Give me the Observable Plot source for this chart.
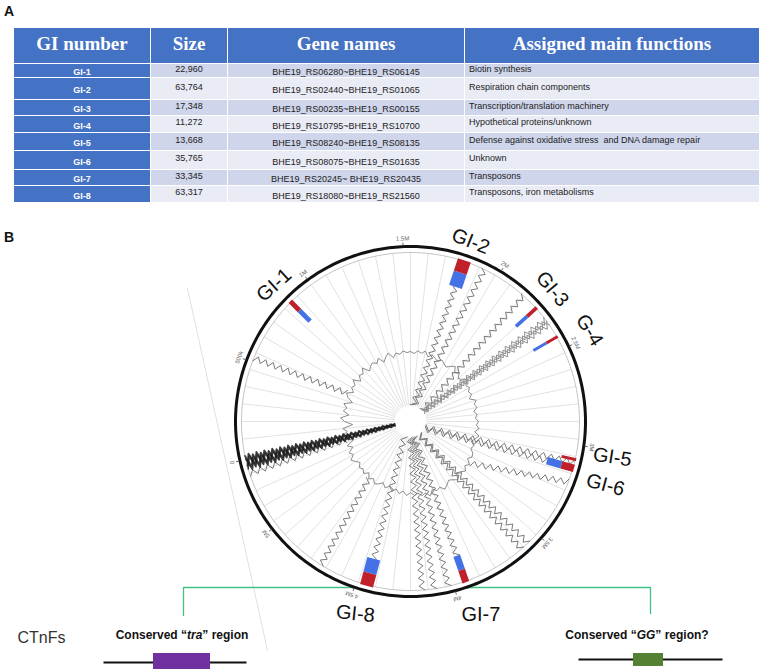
<!DOCTYPE html>
<html><head><meta charset="utf-8">
<script src="https://cdn.jsdelivr.net/npm/d3@7"></script>
<script src="https://cdn.jsdelivr.net/npm/@observablehq/plot@0.6"></script>
<style>
body{margin:0;background:#fff;width:763px;height:671px;position:relative;overflow:hidden;font-family:"Liberation Sans",Arial,sans-serif;}
.panel{position:absolute;left:4px;font-weight:bold;font-size:14px;color:#111;}
#tbl{position:absolute;left:14px;top:28px;display:grid;grid-template-columns:136px 76px 236px 294px;column-gap:1px;row-gap:1px;background:#fff;}
.h{background:#4472c4;color:#fff;font-family:"Liberation Serif","Times New Roman",serif;font-weight:bold;font-size:19px;display:flex;align-items:center;justify-content:center;padding-bottom:4px;box-sizing:border-box;}
.c{font-size:9px;color:#222;display:flex;align-items:center;box-sizing:border-box;white-space:pre;overflow:visible;}
.gi{background:#4472c4;color:#fff;font-weight:bold;justify-content:center;padding-top:3px;}
.sz{justify-content:center;padding-bottom:4px;}
.gn{justify-content:center;padding-top:3px;}
.fn{justify-content:flex-start;padding-left:4px;padding-bottom:4px;}
.cap{position:absolute;top:628px;font-weight:bold;font-size:12px;color:#111;white-space:nowrap;transform:translateX(-50%);line-height:14px;}
#plotB{position:absolute;left:0;top:205px;}
</style></head>
<body>
<div class="panel" style="top:3px">A</div>
<div id="tbl"></div>
<div class="panel" style="top:229px">B</div>
<div id="plotB"></div>
<div class="cap" style="left:182px">Conserved “<i>tra</i>” region</div>
<div class="cap" style="left:637px">Conserved “<i>GG</i>” region?</div>
<script>
// ---------- Panel A data ----------
const headers = ["GI number", "Size", "Gene names", "Assigned main functions"];
const giNames = ["GI-1","GI-2","GI-3","GI-4","GI-5","GI-6","GI-7","GI-8"];
const giSizes = ["22,960","63,764","17,348","11,272","13,668","35,765","33,345","63,317"];
const geneFrom = ["BHE19_RS06280","BHE19_RS02440","BHE19_RS00235","BHE19_RS10795","BHE19_RS08240","BHE19_RS08075","BHE19_RS20245","BHE19_RS18080"];
const geneTo = ["BHE19_RS06145","BHE19_RS01065","BHE19_RS00155","BHE19_RS10700","BHE19_RS08135","BHE19_RS01635","BHE19_RS20435","BHE19_RS21560"];
const geneSep = ["~","~","~","~","~","~","~ ","~"];
const giFunctions = ["Biotin synthesis","Respiration chain components","Transcription/translation machinery","Hypothetical proteins/unknown","Defense against oxidative stress  and DNA damage repair","Unknown","Transposons","Transposons, iron metabolisms"];

// ---------- Panel B data ----------
const genomeMb = 5.37;                 // genome length (Mb)
const giMapLabels = ["GI-1","GI-2","GI-3","G-4","GI-5","GI-6","GI-7","GI-8"];
const giPosMb = [0.865, 1.812, 2.252, 2.431, 3.073, 3.118, 3.938, 4.445];
const giSizeBp = [22960, 63764, 17348, 11272, 13668, 35765, 33345, 63317];
const giHasBlue = [1,1,1,1,0,1,1,1];
const tickMb = [0,0.5,1,1.5,2,2.5,3,3.5,4,4.5,5];
const tickText = ["0","500k","1M","1.5M","2M","2.5M","3M","3.5M","4M","4.5M","5M"];
// GC-skew-like inner ring (one value every 3 degrees, clockwise from top)
const ringR = [
 70,68,71,69,72,67,70,68,66,69,
 67,65,68,71,66,69,64,67,70,66,
 68,65,67,63,69,66,68,64,67,65,
 68,66,69,65,70,67,64,68,66,70,
 71,68,73,70,74,71,69,75,72,70,
 73,76,72,74,71,77,73,75,72,74,
 71,74,70,73,69,72,68,71,67,70,
 72,68,71,66,70,67,69,65,68,71,
 66,69,63,68,60,67,70,64,68,58,
 66,70,62,68,65,69,61,67,70,64,
 68,66,71,64,69,67,72,65,68,70,
 67,71,65,69,72,66,70,68,71,69];
// zig-zag links (genome position outer end -> inner end)
const linkFromMb = [0.522,5.355,5.296,1.812,1.924,2.163,2.342,3.088,3.118,3.192,3.565,3.610,3.938,4.028,4.102,4.162,4.445,4.699];
const linkToMb   = [0.552,0.015,5.325,1.656,1.745,2.238,2.312,3.207,3.297,3.401,3.699,3.744,4.013,4.072,4.162,4.266,4.550,4.759];
const linkAtGI   = [0,0,0,1,0,0,0,0,1,0,0,0,1,0,0,0,1,0];
const linkTarget = ["ring","core","ring","core","core","core","core","core","core","ring","core","core","core","core","core","core","core","ring"];
const linkKind   = ["thin","heavy","thin","thin","thin","thin","braid","thin","thin","thin","thin","thin","thin","thin","thin","thin","thin","thin"];

// ---------- Panel A table ----------
const rowH = [13,21,15,16,17,18,15,16];
const tbl = document.getElementById("tbl");
tbl.style.gridTemplateRows = [35, ...rowH].map(h => h + "px").join(" ");
headers.forEach(h => { const d = document.createElement("div"); d.className = "h"; d.textContent = h; tbl.appendChild(d); });
giNames.forEach((g, i) => {
  const bg = i % 2 === 0 ? "#cfd5ea" : "#e9ebf5";
  const cells = [["gi", g], ["sz", giSizes[i]], ["gn", geneFrom[i] + geneSep[i] + geneTo[i]], ["fn", giFunctions[i]]];
  cells.forEach(([cls, t]) => {
    const d = document.createElement("div");
    d.className = "c " + cls; d.textContent = t;
    if (cls !== "gi") d.style.background = bg;
    tbl.appendChild(d);
  });
});

// ---------- Panel B circle ----------
const zeroBearing = 257;
const bear = mb => zeroBearing + mb / genomeMb * 360;
const P = (r, b) => [r * Math.sin(b * Math.PI / 180), -r * Math.cos(b * Math.PI / 180)];
const R_OUT = 175, R_IN = 169, R_CORE = 16;
const ringStep = 360 / ringR.length;
const ringAt = b => ringR[Math.round((((b % 360) + 360) % 360) / ringStep) % ringR.length];

function zigzag(id, p0, p1, amp0, amp1, phase, offset) {
  const [x0, y0] = p0, [x1, y1] = p1;
  const len = Math.hypot(x1 - x0, y1 - y0);
  const n = Math.max(2, Math.round(len / 4));
  const ux = (x1 - x0) / len, uy = (y1 - y0) / len, nx = -uy, ny = ux;
  const pts = [];
  for (let i = 0; i <= n; i++) {
    const t = i / n, amp = amp0 + (amp1 - amp0) * t;
    const s = ((i + phase) % 2 === 0) ? 1 : -1;
    const off = s * amp + offset * (1 - 0.8 * t);
    pts.push({id, x: x0 + (x1 - x0) * t + nx * off, y: y0 + (y1 - y0) * t + ny * off});
  }
  return pts;
}
const thin = [], heavy = [], braid = [];
linkFromMb.forEach((m, i) => {
  const b0 = bear(m), b1 = bear(linkToMb[i]);
  const r0 = linkAtGI[i] ? 142 : R_IN;
  const r1 = linkTarget[i] === "core" ? R_CORE : ringAt(b1);
  const p0 = P(r0, b0), p1 = P(r1, b1);
  if (linkKind[i] === "heavy") {
    [-2.4, -0.8, 0.8, 2.4].forEach((o, k) => heavy.push(...zigzag(i + "h" + k, p0, p1, 6, 1, k % 2, o)));
  } else if (linkKind[i] === "braid") {
    [-2.4, 0, 2.4].forEach((o, k) => braid.push(...zigzag(i + "b" + k, p0, p1, 3.5, 2.5, k % 2, o)));
  } else {
    thin.push(...zigzag(i, p0, p1, 2.8, 2.8, 0, 0));
  }
});

const circle = r => d3.range(0, 361, 1).map(b => P(r, b));
const ringPts = ringR.map((r, i) => P(r, i * ringStep)); ringPts.push(ringPts[0]);
const spokes = d3.range(0, 360, 6);

const gis = giMapLabels.map((lab, i) => {
  const b = bear(giPosMb[i]);
  const w = Math.max(3, giSizeBp[i] / 1e6 / genomeMb * 2 * Math.PI * 150 * 1.2);
  return {lab, b, w, blue: giHasBlue[i]};
});
// label placement (layout)
const labShift = [0, 0, -1, 3, -3, 2, -1, 1];
const labR = [193, 190, 194, 201, 205, 205, 206, 200];
const labRot = [-42, 22, 50, 58, 9, 15, 0, 6];
const labels = gis.map((g, i) => ({lab: g.lab, xy: P(labR[i], g.b + labShift[i]), rot: labRot[i]}));
const ticks = tickMb.map((m, i) => ({b: bear(m), t: tickText[i]}));

// bottom schematic (layout in px relative to circle centre)
const bracket = [[-227, 194], [-227, 166], [240, 166], [240, 192]];
const geneLines = [{x1: -307, x2: -164, y: 241}, {x1: 168, x2: 312, y: 238}];
const geneBoxes = [{x1: -257, x2: -200, y1: 232, y2: 248, c: "#7030a0"}, {x1: 223, x2: 253, y1: 232, y2: 245, c: "#548235"}];

const chart = Plot.plot({
  width: 763, height: 466, margin: 0,
  x: {domain: [-410, 353], axis: null},
  y: {domain: [-216, 250], range: [0, 466], axis: null},
  style: {fontFamily: "Liberation Sans, Arial, sans-serif", background: "transparent"},
  marks: [
    Plot.line([[-223, -133], [-143, 229]], {stroke: "#e0e0e0", strokeWidth: 1}),
    Plot.line(bracket, {stroke: "#43c184", strokeWidth: 1.3}),
    Plot.dot([[0, 0]], {r: R_OUT, fill: "white", stroke: null}),
    Plot.link(spokes, {x1: b => P(R_CORE, b)[0], y1: b => P(R_CORE, b)[1], x2: b => P(R_IN, b)[0], y2: b => P(R_IN, b)[1], stroke: "#e2e2e2", strokeWidth: 1}),
    Plot.line(circle(R_IN), {stroke: "#c4c4c4", strokeWidth: 1}),
    Plot.line(ringPts, {stroke: "#8c8c8c", strokeWidth: 1}),
    Plot.line(thin, {x: "x", y: "y", z: "id", stroke: "#7a7a7a", strokeWidth: 1}),
    Plot.line(braid, {x: "x", y: "y", z: "id", stroke: "#8f8f8f", strokeWidth: 1}),
    Plot.line(heavy, {x: "x", y: "y", z: "id", stroke: "#1c1c1c", strokeWidth: 1.6, strokeOpacity: 0.85}),
    Plot.dot([[0, 0]], {r: 14, fill: "white", stroke: null}),
    Plot.link(gis.filter(g => g.blue), {x1: g => P(142, g.b)[0], y1: g => P(142, g.b)[1], x2: g => P(157, g.b)[0], y2: g => P(157, g.b)[1], stroke: "#4472e6", strokeWidth: "w"}),
    Plot.link(gis, {x1: g => P(g.blue ? 157 : 155, g.b)[0], y1: g => P(g.blue ? 157 : 155, g.b)[1], x2: g => P(170, g.b)[0], y2: g => P(170, g.b)[1], stroke: "#c0202a", strokeWidth: "w"}),
    Plot.line(circle(R_OUT), {stroke: "#111", strokeWidth: 3}),
    Plot.link(ticks, {x1: d => P(R_OUT + 1, d.b)[0], y1: d => P(R_OUT + 1, d.b)[1], x2: d => P(R_OUT + 4, d.b)[0], y2: d => P(R_OUT + 4, d.b)[1], stroke: "#666", strokeWidth: 1}),
    Plot.text(ticks, {x: d => P(183, d.b)[0], y: d => P(183, d.b)[1], text: "t", rotate: d => d.b, fontSize: 6, fill: "#666"}),
    Plot.text(labels, {x: d => d.xy[0], y: d => d.xy[1], text: "lab", rotate: "rot", fontSize: 20, fill: "#111"}),
    Plot.link(geneLines, {x1: "x1", x2: "x2", y1: "y", y2: "y", stroke: "#111", strokeWidth: 1.8}),
    Plot.rect(geneBoxes, {x1: "x1", x2: "x2", y1: "y1", y2: "y2", fill: "c", stroke: null}),
    Plot.text(["CTnFs"], {x: -393, y: 216, text: d => d, textAnchor: "start", fontSize: 16, fill: "#333"})
  ]
});
document.getElementById("plotB").appendChild(chart);
</script>
</body></html>
